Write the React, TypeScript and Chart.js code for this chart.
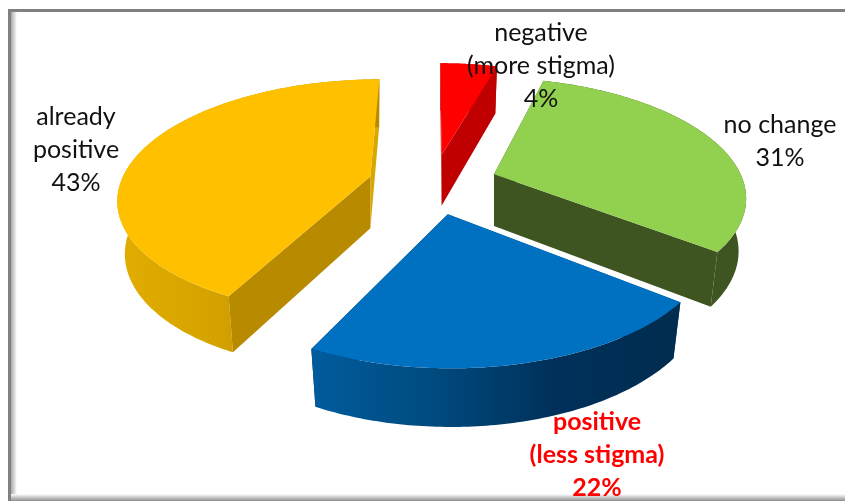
import React, { useEffect, useRef } from "react";
import { Chart, registerables, ArcElement, PieController } from "chart.js";

const categories = ["negative (more stigma)", "no change", "positive (less stigma)", "already positive"];
const shares = [4.4, 31.2, 21.8, 42.6];
const topColors = ["#FF0000", "#92D050", "#0070C0", "#FFC000"];
const explodeOffsets = [65, 65, 65, 65];
const paintOrder = [0, 3, 1, 2];

const wallStops: string[][] = [
  ["#C00000", "#C00000"],
  ["#3E5522", "#3E5522"],
  ["#005C9E", "#004A7E", "#00305A", "#002C4E"],
  ["#E2AD00", "#D6A400", "#C49400", "#B88A00"],
];
const startFaceColors = ["#C00000", "#3E5522", "#005C9E", "#B88A00"];
const endFaceColors = ["#C00000", "#3E5522", "#002C4E", "#D9A800"];

const labelLines = [
  ["negative", "(more stigma)", "4%"],
  ["no change", "31%"],
  ["positive", "(less stigma)", "22%"],
  ["already", "positive", "43%"],
];
const labelAnchors = [
  { x: 541, y: 33, lh: 33 },
  { x: 780, y: 125, lh: 33 },
  { x: 597, y: 422, lh: 33 },
  { x: 76, y: 117, lh: 33 },
];
const labelStyle = [
  { color: "#111", bold: false },
  { color: "#111", bold: false },
  { color: "#FF0000", bold: true },
  { color: "#111", bold: false },
];

const PROJ = { cx: 433, cy: 183.5, rx: 250, ry: 116, persp: 0.17, depth: 52, shrink: 0.97, unit: 250 };

function project(u: number, v: number, down: boolean, apexU: number, apexV: number) {
  const s = 1 / (1 - PROJ.persp * v);
  let x = u * s * PROJ.rx;
  let y = v * s * PROJ.ry;
  if (down) {
    const ax = (apexU / (1 - PROJ.persp * apexV)) * PROJ.rx;
    x = ax + (x - ax) * PROJ.shrink;
    y += PROJ.depth * Math.sqrt(s);
  }
  return { x: PROJ.cx + x, y: PROJ.cy + y };
}

class Arc3D extends ArcElement {
  static id = "arc3d";
  style: any;
  draw(ctx: CanvasRenderingContext2D) {
    const { startAngle, endAngle } = this.getProps(["startAngle", "endAngle"]) as any;
    const o = (this.options.offset as number) / PROJ.unit;
    const st = this.style;
    const a0 = startAngle + Math.PI / 2;
    const a1 = endAngle + Math.PI / 2;
    const mid = (a0 + a1) / 2;
    const ou = Math.sin(mid) * o;
    const ov = -Math.cos(mid) * o;
    const pt = (a: number, r: number, down: boolean) =>
      project(ou + r * Math.sin(a), ov - r * Math.cos(a), down, ou, ov);
    const n = Math.max(2, Math.ceil((a1 - a0) / 0.015));
    const arc = (down: boolean) => {
      const out = [];
      for (let i = 0; i <= n; i++) out.push(pt(a0 + ((a1 - a0) * i) / n, 1, down));
      return out;
    };
    const fillPoly = (pts: { x: number; y: number }[], fill: any) => {
      ctx.beginPath();
      pts.forEach((p, i) => (i ? ctx.lineTo(p.x, p.y) : ctx.moveTo(p.x, p.y)));
      ctx.closePath();
      ctx.fillStyle = fill;
      ctx.fill();
    };
    const top = arc(false);
    const bot = arc(true);
    const apexT = pt(0, 0, false);
    const apexB = pt(0, 0, true);
    const xs = top.map((p) => p.x);
    const g = ctx.createLinearGradient(Math.min(...xs), 0, Math.max(...xs), 0);
    st.wall.forEach((c: string, i: number) => g.addColorStop(i / (st.wall.length - 1), c));

    const startFace = () => fillPoly([apexT, top[0], bot[0], apexB], st.startFace);
    const endFace = () => fillPoly([apexT, top[n], bot[n], apexB], st.endFace);
    const startVisible = Math.sin(a0) < -1e-6;
    const endVisible = Math.sin(a1) > 1e-6;

    ctx.save();
    if (!startVisible) startFace();
    if (!endVisible) endFace();
    fillPoly([...top, ...bot.slice().reverse()], g);
    if (endVisible) endFace();
    if (startVisible) startFace();
    fillPoly([apexT, ...top], this.options.backgroundColor);
    ctx.restore();
  }
}

class Pie3DController extends PieController {
  static id = "pie3d";
  static defaults = { dataElementType: "arc3d" };
  draw() {
    const ctx = this.chart.ctx;
    const els = this.getMeta().data as any[];
    paintOrder.forEach((i) => {
      els[i].style = { wall: wallStops[i], startFace: startFaceColors[i], endFace: endFaceColors[i] };
      els[i].draw(ctx);
    });
  }
}

Chart.register(...registerables, Arc3D, Pie3DController);

const framePlugin = {
  id: "frame",
  beforeDraw(chart: any) {
    const { ctx, width, height } = chart;
    ctx.save();
    ctx.fillStyle = "#fff";
    ctx.fillRect(0, 0, width, height);
    const gl = ctx.createLinearGradient(11, 0, 17, 0);
    gl.addColorStop(0, "#A8A8A8");
    gl.addColorStop(1, "#FFFFFF");
    ctx.fillStyle = gl;
    ctx.fillRect(11, 11, 6, height - 11);
    const gb = ctx.createLinearGradient(0, 494, 0, 501);
    gb.addColorStop(0, "#FFFFFF");
    gb.addColorStop(1, "#8E8E8E");
    ctx.fillStyle = gb;
    ctx.fillRect(11, 494, width - 11, 7);
    ctx.fillStyle = "#808080";
    ctx.fillRect(8, 9, width - 8, 3);
    ctx.fillRect(8, 9, 3, height - 9);
    ctx.restore();
  },
};

const labelPlugin = {
  id: "sliceLabels",
  afterDatasetsDraw(chart: any) {
    const ctx = chart.ctx;
    ctx.save();
    ctx.textAlign = "center";
    ctx.textBaseline = "middle";
    labelLines.forEach((lines, i) => {
      const a = labelAnchors[i];
      const st = labelStyle[i];
      ctx.font = `${st.bold ? "bold " : ""}25px Lato, Carlito, sans-serif`;
      ctx.fillStyle = st.color;
      lines.forEach((t, k) => ctx.fillText(t, a.x, a.y + k * a.lh));
    });
    ctx.restore();
  },
};

export default function App() {
  const ref = useRef<HTMLCanvasElement>(null);
  useEffect(() => {
    const chart = new Chart(ref.current!, {
      type: "pie3d" as any,
      data: {
        labels: categories,
        datasets: [{ data: shares, backgroundColor: topColors, offset: explodeOffsets, borderWidth: 0 } as any],
      },
      options: {
        responsive: false,
        animation: false,
        rotation: 0,
        plugins: { legend: { display: false }, tooltip: { enabled: false } },
      } as any,
      plugins: [framePlugin, labelPlugin],
    });
    return () => chart.destroy();
  }, []);
  return (
    <div style={{ position: "absolute", left: 0, top: 0, width: 845, height: 501 }}>
      <canvas ref={ref} width={845} height={501} style={{ display: "block" }} />
    </div>
  );
}
